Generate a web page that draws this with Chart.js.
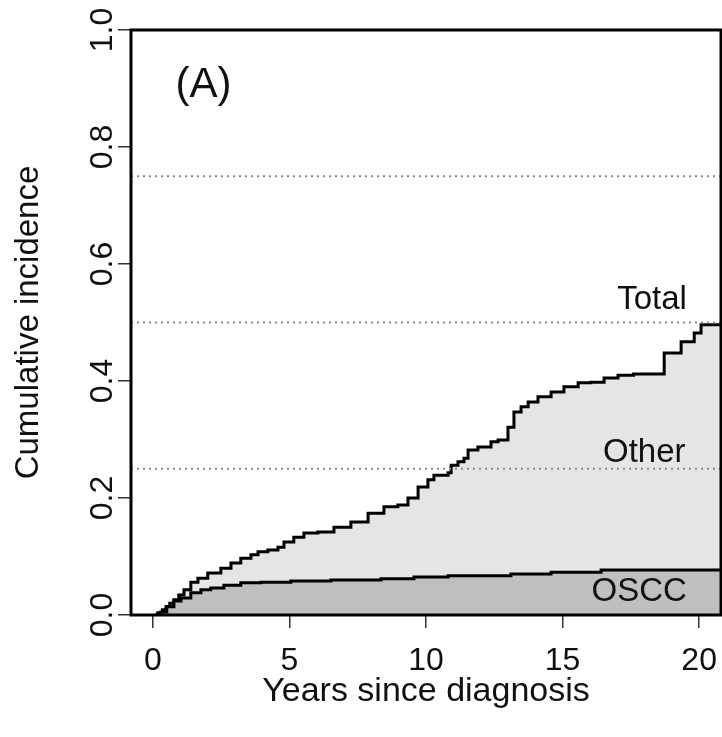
<!DOCTYPE html>
<html>
<head>
<meta charset="utf-8">
<script src="https://cdn.jsdelivr.net/npm/chart.js@4.4.1/dist/chart.umd.min.js"></script>
<style>html,body{margin:0;padding:0;background:#fff;}canvas{display:block;}</style>
</head>
<body>
<canvas id="c" width="722" height="737"></canvas>
<script>
// ---- data ----
const totalYears  = [0.10, 0.18, 0.35, 0.48, 0.62, 0.77, 0.95, 1.14, 1.39, 1.65, 2.01, 2.49, 2.86, 3.22, 3.59, 3.85, 4.21, 4.58, 4.80, 5.16, 5.53, 6.04, 6.63, 7.25, 7.88, 8.46, 8.97, 9.34, 9.71, 10.07, 10.29, 10.81, 10.92, 11.17, 11.39, 11.54, 11.90, 12.38, 12.64, 13.00, 13.22, 13.48, 13.74, 14.10, 14.58, 15.05, 15.57, 16.04, 16.52, 17.03, 17.60, 18.72, 19.34, 19.82, 20.07, 20.80];
const totalValues = [0.000, 0.004, 0.009, 0.014, 0.020, 0.026, 0.034, 0.043, 0.056, 0.063, 0.072, 0.080, 0.089, 0.097, 0.103, 0.108, 0.111, 0.116, 0.125, 0.133, 0.140, 0.142, 0.150, 0.159, 0.174, 0.185, 0.188, 0.200, 0.219, 0.231, 0.239, 0.243, 0.256, 0.262, 0.268, 0.282, 0.287, 0.296, 0.299, 0.321, 0.347, 0.356, 0.364, 0.373, 0.381, 0.390, 0.397, 0.398, 0.405, 0.410, 0.412, 0.448, 0.467, 0.482, 0.496, 0.496];
const osccYears   = [0.10, 0.29, 0.51, 0.77, 1.03, 1.39, 1.76, 2.12, 2.60, 3.22, 3.96, 5.05, 6.52, 8.35, 9.56, 10.81, 13.11, 14.58, 16.41, 20.80];
const osccValues  = [0.000, 0.005, 0.014, 0.024, 0.029, 0.038, 0.043, 0.046, 0.051, 0.055, 0.056, 0.058, 0.060, 0.062, 0.065, 0.067, 0.070, 0.073, 0.077, 0.077];
const refLevels = [0.25, 0.5, 0.75];
const xTicks = [0, 5, 10, 15, 20];
const yTicks = [0, 0.2, 0.4, 0.6, 0.8, 1.0];
const xLimits = [-0.8, 20.8];
const yLimits = [0, 1];
const xTitle = 'Years since diagnosis';
const yTitle = 'Cumulative incidence';
const panelLabel = '(A)';
const curveLabels = ['Total', 'Other', 'OSCC'];

// ---- annotation placement (data coordinates) ----
const textNotes = [
  {text: panelLabel,     x: 1.85,  y: 0.905, align: 'center', size: 42},
  {text: curveLabels[0], x: 19.55, y: 0.538, align: 'right',  size: 33},
  {text: curveLabels[1], x: 19.50, y: 0.277, align: 'right',  size: 33},
  {text: curveLabels[2], x: 19.55, y: 0.040, align: 'right',  size: 33}
];

const FONT = "'Liberation Sans', Arial, Helvetica, sans-serif";
Chart.defaults.font.family = FONT;
Chart.defaults.color = '#111';

const toPts = (xs, ys) => xs.map((x, i) => ({x: x, y: ys[i]}));

const datasets = [
  {
    label: 'Total', data: toPts(totalYears, totalValues),
    stepped: 'before', borderColor: '#000', borderWidth: 3,
    backgroundColor: '#e5e5e5', fill: 1, pointRadius: 0, order: 2
  },
  {
    label: 'OSCC', data: toPts(osccYears, osccValues),
    stepped: 'before', borderColor: '#000', borderWidth: 3,
    backgroundColor: '#bfbfbf', fill: 'origin', pointRadius: 0, order: 1
  }
];
refLevels.forEach(v => datasets.push({
  label: 'ref' + v,
  data: [{x: xLimits[0], y: v}, {x: xLimits[1], y: v}],
  borderColor: '#8a8a8a', borderWidth: 2, borderDash: [2, 4],
  pointRadius: 0, fill: false, order: 0
}));

const boxPlugin = {
  id: 'box',
  afterDatasetsDraw(chart) {
    const {ctx, chartArea: a, scales} = chart;
    ctx.save();
    textNotes.forEach(n => {
      ctx.font = n.size + 'px ' + FONT;
      ctx.fillStyle = '#111';
      ctx.textAlign = n.align;
      ctx.textBaseline = 'middle';
      ctx.fillText(n.text, scales.x.getPixelForValue(n.x), scales.y.getPixelForValue(n.y));
    });
    ctx.strokeStyle = '#000';
    ctx.lineWidth = 3;
    ctx.strokeRect(a.left, a.top, a.right - a.left, a.bottom - a.top);
    ctx.restore();
  }
};

const noPad = s => { s.paddingLeft = 0; s.paddingRight = 0; s.paddingTop = 0; s.paddingBottom = 0; };

new Chart(document.getElementById('c'), {
  type: 'line',
  data: {datasets},
  plugins: [boxPlugin],
  options: {
    responsive: false,
    animation: false,
    devicePixelRatio: 1,
    layout: {padding: {top: 30, right: 1, left: 0, bottom: 0}},
    plugins: {legend: {display: false}, tooltip: {enabled: false}},
    scales: {
      x: {
        type: 'linear', min: xLimits[0], max: xLimits[1],
        afterBuildTicks: s => { s.ticks = xTicks.map(v => ({value: v})); },
        afterFit: s => { s.height = 122; noPad(s); },
        grid: {drawOnChartArea: false, drawTicks: true, tickLength: 13, color: '#333', lineWidth: 1.5},
        border: {display: false},
        ticks: {font: {size: 32}, padding: 14, color: '#111', maxRotation: 0, callback: v => String(v)},
        title: {display: true, text: xTitle, font: {size: 34}, color: '#111', padding: {top: 0, bottom: 25}}
      },
      y: {
        type: 'linear', min: yLimits[0], max: yLimits[1],
        afterBuildTicks: s => { s.ticks = yTicks.map(v => ({value: v})); },
        afterFit: s => { s.width = 131; noPad(s); },
        grid: {drawOnChartArea: false, drawTicks: true, tickLength: 13, color: '#333', lineWidth: 1.5},
        border: {display: false},
        ticks: {font: {size: 32}, padding: -7, color: '#111', minRotation: 90, maxRotation: 90, crossAlign: 'center', callback: v => v.toFixed(1)},
        title: {display: true, text: yTitle, font: {size: 33}, color: '#111', padding: {top: 9, bottom: 0}}
      }
    }
  }
});
</script>
</body>
</html>
